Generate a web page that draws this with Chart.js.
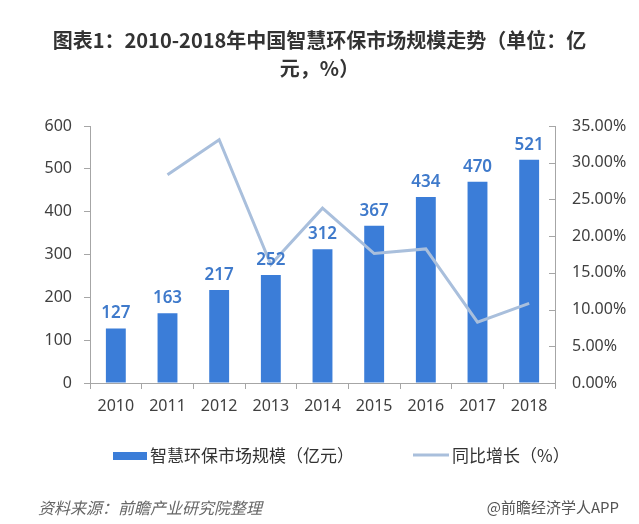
<!DOCTYPE html>
<html>
<head>
<meta charset="utf-8">
<script src="https://cdn.jsdelivr.net/npm/chart.js@4"></script>
<style>
  html, body { margin: 0; padding: 0; background: #ffffff; }
  #wrap { position: relative; width: 639px; height: 524px; overflow: hidden; }
  #chart { position: absolute; left: 0; top: 0; }
  .foot { position: absolute; top: 496px; font-family: "Noto Sans CJK SC", sans-serif; font-size: 16px; color: #666; font-style: italic; line-height: 22px; white-space: nowrap; }
  #srcL { left: 38px; }
  #srcR { right: 20px; font-style: normal; color: #555; font-size: 15px; }
</style>
</head>
<body>
<div id="wrap">
  <canvas id="chart" width="639" height="524"></canvas>
  <div class="foot" id="srcL">资料来源：前瞻产业研究院整理</div>
  <div class="foot" id="srcR">@前瞻经济学人APP</div>
</div>
<script>
// ---- data ----
const years = ['2010', '2011', '2012', '2013', '2014', '2015', '2016', '2017', '2018'];
const marketSize = [127, 163, 217, 252, 312, 367, 434, 470, 521];           // 亿元
const growthPct = [null, 28.35, 33.13, 16.13, 23.81, 17.63, 18.26, 8.29, 10.85]; // %
const leftAxisMax = 600;
const leftAxisStep = 100;
const rightAxisMax = 35;
const rightAxisStep = 5;
const seriesNames = ['智慧环保市场规模（亿元）', '同比增长（%）'];
const titleLines = ['图表1：2010-2018年中国智慧环保市场规模走势（单位：亿', '元，%）'];

const BAR_COLOR = '#3b7dd8';
const LINE_COLOR = '#a9bfdc';
const AXIS_COLOR = '#a6a6a6';
const TEXT_COLOR = '#404040';
const LATIN = '"Noto Sans", "Noto Sans CJK SC", sans-serif';
const CJK = '"Noto Sans CJK SC", sans-serif';

const barLabels = {
  id: 'barLabels',
  afterDatasetsDraw(chart) {
    const meta = chart.getDatasetMeta(0);
    const ctx = chart.ctx;
    ctx.save();
    ctx.font = '600 17px ' + LATIN;
    ctx.fillStyle = '#3f7acb';
    ctx.textAlign = 'center';
    ctx.textBaseline = 'middle';
    meta.data.forEach((el, i) => {
      ctx.fillText(String(chart.data.datasets[0].data[i]), el.x, el.y - 15);
    });
    ctx.restore();
  }
};

const innerTicks = {
  id: 'innerTicks',
  afterDraw(chart) {
    const s = chart.scales.y1;
    const ctx = chart.ctx;
    ctx.save();
    ctx.strokeStyle = AXIS_COLOR;
    ctx.lineWidth = 1;
    s.ticks.forEach(t => {
      const y = Math.round(s.getPixelForValue(t.value)) + 0.5;
      ctx.beginPath();
      ctx.moveTo(s.left - 6, y);
      ctx.lineTo(s.left, y);
      ctx.stroke();
    });
    ctx.restore();
  }
};

const customLegend = {
  id: 'customLegend',
  afterDraw(chart) {
    const ctx = chart.ctx;
    const ds = chart.data.datasets;
    const cy = 456;
    ctx.save();
    ctx.font = '17px ' + CJK;
    ctx.textBaseline = 'middle';
    ctx.textAlign = 'left';
    let x = 113;
    // bar item
    ctx.fillStyle = ds[0].backgroundColor;
    ctx.fillRect(x, cy - 4, 34, 8);
    x += 37;
    ctx.fillStyle = '#333333';
    ctx.fillText(ds[0].label, x, cy);
    x += ctx.measureText(ds[0].label).width + 59;
    // line item
    ctx.strokeStyle = ds[1].borderColor;
    ctx.lineWidth = 3;
    ctx.beginPath();
    ctx.moveTo(x, cy - 1);
    ctx.lineTo(x + 36, cy - 1);
    ctx.stroke();
    x += 39;
    ctx.fillStyle = '#333333';
    ctx.fillText(ds[1].label, x, cy);
    ctx.restore();
  }
};

new Chart(document.getElementById('chart'), {
  data: {
    labels: years,
    datasets: [
      {
        type: 'bar',
        label: seriesNames[0],
        data: marketSize,
        backgroundColor: BAR_COLOR,
        borderWidth: 0,
        barPercentage: 0.385,
        categoryPercentage: 1.0,
        yAxisID: 'y',
        order: 2
      },
      {
        type: 'line',
        label: seriesNames[1],
        data: growthPct,
        borderColor: LINE_COLOR,
        backgroundColor: LINE_COLOR,
        borderWidth: 3,
        pointRadius: 0,
        tension: 0,
        yAxisID: 'y1',
        order: 1
      }
    ]
  },
  options: {
    responsive: false,
    animation: false,
    devicePixelRatio: 1,
    layout: { padding: { left: 0, right: 0, top: 0, bottom: 101 } },
    plugins: {
      legend: { display: false },
      tooltip: { enabled: false },
      title: {
        display: true,
        text: titleLines,
        color: '#333333',
        font: { family: CJK, size: 20, weight: 'bold', lineHeight: 1.4 },
        padding: { top: 26, bottom: 44 }
      }
    },
    scales: {
      x: {
        offset: true,
        grid: { display: true, drawOnChartArea: false, drawTicks: true, tickLength: 6, color: AXIS_COLOR, offset: true },
        border: { display: true, color: AXIS_COLOR },
        ticks: { color: TEXT_COLOR, font: { family: LATIN, size: 16 }, padding: 8, maxRotation: 0 },
        afterFit(s) { s.height = 40; }
      },
      y: {
        position: 'left',
        min: 0,
        max: leftAxisMax,
        grid: { display: true, drawOnChartArea: false, drawTicks: true, tickLength: 6, color: AXIS_COLOR },
        border: { display: true, color: AXIS_COLOR },
        ticks: { stepSize: leftAxisStep, color: TEXT_COLOR, font: { family: LATIN, size: 16 }, padding: 12 },
        afterFit(s) { s.width = 90; }
      },
      y1: {
        position: 'right',
        min: 0,
        max: rightAxisMax,
        grid: { display: false, drawOnChartArea: false, drawTicks: false },
        border: { display: true, color: AXIS_COLOR },
        ticks: {
          stepSize: rightAxisStep,
          color: TEXT_COLOR,
          font: { family: LATIN, size: 16 },
          padding: 17,
          callback: v => v.toFixed(2) + '%'
        },
        afterFit(s) { s.width = 84; }
      }
    }
  },
  plugins: [barLabels, innerTicks, customLegend]
});
</script>
</body>
</html>
